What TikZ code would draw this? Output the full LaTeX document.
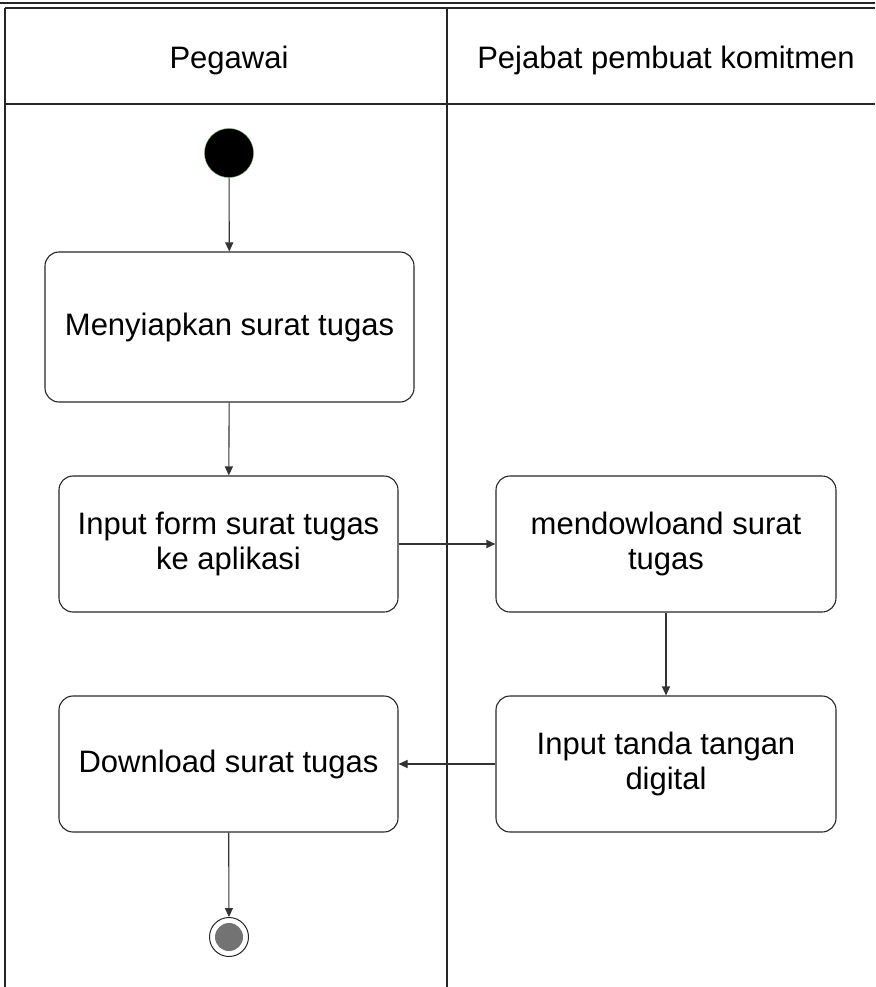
\documentclass[tikz,border=0pt]{standalone}
\usepackage{fontspec}
\setmainfont{Liberation Sans}
\usetikzlibrary{arrows.meta}
\tikzset{x=1pt,y=-1pt,
  act/.style={draw=black!85,line width=1.1pt,rounded corners=14pt,align=center,
    font=\fontsize{31}{35}\selectfont,inner sep=0pt},
  flow/.style={-{Triangle[length=9pt,width=8pt]},draw=black!80,line width=1.1pt},
  lane/.style={draw=black!85,line width=1.1pt}}

\begin{document}
\begin{tikzpicture}
        \useasboundingbox (0,0) rectangle (875,987);
        % swimlanes
        \draw[lane] (0,3) -- (875,3);
        \draw[lane] (5,8) -- (875,8);
        \draw[lane] (5,8) -- (5,987);
        \draw[lane] (447,8) -- (447,987);
        \draw[lane] (5,104) -- (875,104);
        \node[font=\fontsize{31}{35}\selectfont] (pegawai) at (229,60) {Pegawai};
        \node[font=\fontsize{31}{35}\selectfont] (ppk) at (666,60) {Pejabat pembuat komitmen};
        % activities
        \node[circle,fill=black,draw=green!40!black!60,minimum size=49pt,inner sep=0pt] (start) at (229,153) {};
        \node[act,minimum width=369pt,minimum height=150pt] (siap) at (229.5,327) {Menyiapkan surat tugas};
        \node[act,minimum width=339pt,minimum height=136pt] (form) at (228.5,544) {Input form surat tugas\\ke aplikasi};
        \node[act,minimum width=340pt,minimum height=136pt] (unduh) at (666,544) {mendowloand surat\\tugas};
        \node[act,minimum width=339pt,minimum height=136pt] (download) at (228.5,764) {Download surat tugas};
        \node[act,minimum width=340pt,minimum height=136pt] (ttd) at (666,764) {Input tanda tangan\\digital};
        \node[circle,draw=black!85,line width=1pt,minimum size=39pt,inner sep=0pt] (end) at (229,937) {};
        \fill[black!55] (end.center) circle (14pt);
        \draw[flow] (start) -- (siap);
        \draw[flow] (siap) -- (form);
        \draw[flow] (form) -- (unduh);
        \draw[flow] (unduh) -- (ttd);
        \draw[flow] (ttd) -- (download);
        \draw[flow] (download) -- (end);
    \end{tikzpicture}
\end{document}
